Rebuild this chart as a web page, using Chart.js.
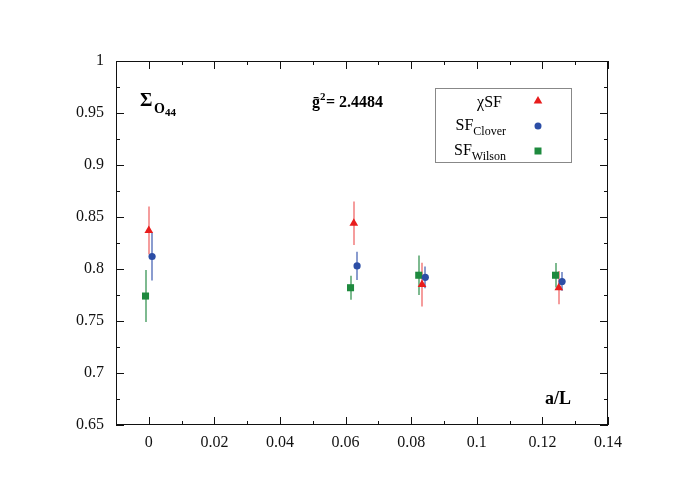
<!DOCTYPE html>
<html><head><meta charset="utf-8">
<script src="https://cdn.jsdelivr.net/npm/chart.js@4/dist/chart.umd.min.js"></script>
<style>html,body{margin:0;padding:0;background:#fff;}#wrap{width:698px;height:493px;}</style>
</head><body><div id="wrap"><canvas id="c" width="698" height="493"></canvas></div>
<script>
// ---- data ----
const xChiSF  = [0, 0.0625, 0.0833, 0.125];
const yChiSF  = [0.837, 0.844, 0.785, 0.782];
const eChiSF  = [0.023, 0.021, 0.021, 0.016];
const xClover = [0.001, 0.0635, 0.0843, 0.126];
const yClover = [0.812, 0.803, 0.792, 0.788];
const eClover = [0.023, 0.0135, 0.0105, 0.009];
const xWilson = [-0.001, 0.0615, 0.0823, 0.124];
const yWilson = [0.774, 0.782, 0.794, 0.794];
const eWilson = [0.025, 0.0115, 0.019, 0.0117];
const xTickValues = [0, 0.02, 0.04, 0.06, 0.08, 0.1, 0.12, 0.14];
const yTickValues = [0.65, 0.7, 0.75, 0.8, 0.85, 0.9, 0.95, 1];
const xMinorValues = [-0.01, 0.01, 0.03, 0.05, 0.07, 0.09, 0.11, 0.13];
const yMinorValues = [0.675, 0.725, 0.775, 0.825, 0.875, 0.925, 0.975];

const SERIF = "'Liberation Serif', 'Times New Roman', serif";
Chart.defaults.font.family = SERIF;
const pts = (xs, ys) => xs.map((x, i) => ({x, y: ys[i]}));

const errorBars = {
  id: 'errorBars',
  beforeDatasetsDraw(chart) {
    const {ctx, scales: {x, y}} = chart;
    chart.data.datasets.forEach(ds => {
      ctx.save();
      ctx.strokeStyle = ds.errColor; ctx.lineWidth = 2;
      ds.data.forEach((p, i) => {
        const px = Math.round(x.getPixelForValue(p.x));
        ctx.beginPath();
        ctx.moveTo(px, y.getPixelForValue(p.y - ds.err[i]));
        ctx.lineTo(px, y.getPixelForValue(p.y + ds.err[i]));
        ctx.stroke();
      });
      ctx.restore();
    });
  }
};

const frame = {
  id: 'frame',
  beforeDatasetsDraw(chart) {
    const {ctx, chartArea: a, scales: {x, y}} = chart;
    ctx.save();
    ctx.strokeStyle = '#111'; ctx.lineWidth = 1;
    ctx.strokeRect(a.left + 0.5, a.top + 0.5, a.right - a.left - 1, a.bottom - a.top - 1);
    ctx.beginPath();
    const tx = (vals, len) => vals.forEach(v => {
      const px = Math.round(x.getPixelForValue(v)) + 0.5;
      ctx.moveTo(px, a.bottom); ctx.lineTo(px, a.bottom - len);
      ctx.moveTo(px, a.top); ctx.lineTo(px, a.top + len);
    });
    const ty = (vals, len) => vals.forEach(v => {
      const py = Math.round(y.getPixelForValue(v)) + 0.5;
      ctx.moveTo(a.left, py); ctx.lineTo(a.left + len, py);
      ctx.moveTo(a.right, py); ctx.lineTo(a.right - len, py);
    });
    tx(xTickValues, 8); tx(xMinorValues, 4);
    ty(yTickValues, 8); ty(yMinorValues, 4);
    ctx.stroke();
    ctx.restore();
  }
};

function drawMarker(ctx, style, x, y, color, r) {
  ctx.save();
  ctx.fillStyle = color;
  ctx.beginPath();
  if (style === 'triangle') {
    ctx.moveTo(x, y - r); ctx.lineTo(x + r * 0.866, y + r * 0.5); ctx.lineTo(x - r * 0.866, y + r * 0.5);
    ctx.closePath();
  } else if (style === 'circle') {
    ctx.arc(x, y, r, 0, Math.PI * 2);
  } else {
    ctx.rect(x - r, y - r, 2 * r, 2 * r);
  }
  ctx.fill();
  ctx.restore();
}

const texts = {
  id: 'texts',
  afterDraw(chart) {
    const {ctx} = chart;
    ctx.save();
    ctx.fillStyle = '#000';
    ctx.textBaseline = 'alphabetic';
    ctx.textAlign = 'left';
    // Sigma label
    ctx.font = 'bold 19px ' + SERIF;
    ctx.fillText('Σ', 140, 106);
    ctx.font = 'bold 14px ' + SERIF;
    ctx.fillText('O', 154, 113);
    ctx.font = 'bold 11px ' + SERIF;
    ctx.fillText('44', 165, 116);
    // g-bar
    ctx.font = 'bold 16px ' + SERIF;
    ctx.fillText('ḡ', 312, 107);
    ctx.font = 'bold 11px ' + SERIF;
    ctx.fillText('2', 320, 100);
    ctx.font = 'bold 16px ' + SERIF;
    ctx.fillText('= 2.4484', 326, 107);
    // a/L
    ctx.font = 'bold 18px ' + SERIF;
    ctx.fillText('a/L', 545, 404);
    // legend box
    ctx.strokeStyle = '#888'; ctx.lineWidth = 1;
    ctx.strokeRect(435.5, 88.5, 136, 74);
    ctx.textAlign = 'right';
    ctx.font = '16px ' + SERIF;
    ctx.fillText('χSF', 502, 107);
    ctx.font = '12px ' + SERIF;
    const wc = ctx.measureText('Clover').width;
    ctx.fillText('Clover', 506, 135);
    ctx.font = '16px ' + SERIF;
    ctx.fillText('SF', 506 - wc, 130);
    ctx.font = '12px ' + SERIF;
    const ww = ctx.measureText('Wilson').width;
    ctx.fillText('Wilson', 506, 160);
    ctx.font = '16px ' + SERIF;
    ctx.fillText('SF', 506 - ww, 155);
    ctx.restore();
    const ds = chart.data.datasets;
    drawMarker(ctx, 'triangle', 538, 101, ds[1].backgroundColor, 5);
    drawMarker(ctx, 'circle', 538, 126, ds[0].backgroundColor, 3.5);
    drawMarker(ctx, 'rect', 538, 151, ds[2].backgroundColor, 3.5);
  }
};

new Chart(document.getElementById('c'), {
  type: 'scatter',
  data: {
    datasets: [
      {label: 'SF Clover', data: pts(xClover, yClover), err: eClover, order: 0,
       pointStyle: 'circle', pointRadius: 3.6, backgroundColor: '#2c4ea6', borderWidth: 0,
       errColor: 'rgba(60,90,175,0.6)'},
      {label: 'χSF', data: pts(xChiSF, yChiSF), err: eChiSF, order: 1,
       pointStyle: 'triangle', pointRadius: 5, backgroundColor: '#e81c1c', borderWidth: 0,
       errColor: 'rgba(235,60,60,0.5)'},
      {label: 'SF Wilson', data: pts(xWilson, yWilson), err: eWilson, order: 2,
       pointStyle: 'rect', pointRadius: 5, backgroundColor: '#1e8a3e', borderWidth: 0,
       errColor: 'rgba(40,140,70,0.6)'}
    ]
  },
  options: {
    responsive: false, animation: false,
    layout: {padding: {left: 0, top: 61, right: 90, bottom: 0}},
    plugins: {legend: {display: false}, tooltip: {enabled: false}},
    scales: {
      x: {
        type: 'linear', min: -0.01, max: 0.14,
        afterBuildTicks: s => { s.ticks = xTickValues.map(v => ({value: v})); },
        afterFit: s => { s.height = 68; },
        grid: {display: false, drawTicks: false},
        border: {display: false},
        ticks: {padding: 8, color: '#111', font: {family: SERIF, size: 16},
                callback: v => String(parseFloat(v.toFixed(3)))}
      },
      y: {
        type: 'linear', min: 0.65, max: 1,
        afterBuildTicks: s => { s.ticks = yTickValues.map(v => ({value: v})); },
        afterFit: s => { s.width = 116; },
        grid: {display: false, drawTicks: false},
        border: {display: false},
        ticks: {padding: 12, color: '#111', font: {family: SERIF, size: 16},
                callback: v => String(parseFloat(v.toFixed(3)))}
      }
    }
  },
  plugins: [frame, errorBars, texts]
});
</script>
</body></html>
